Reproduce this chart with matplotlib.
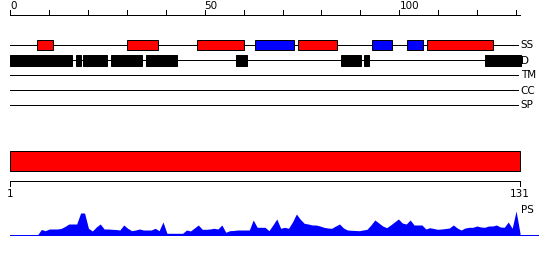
import matplotlib
matplotlib.use('Agg')
import matplotlib.pyplot as plt
from matplotlib.patches import Rectangle
import numpy as np

# ---------------- data ----------------
seq_len = 131
ruler_ticks = list(range(0, 131, 10))
ruler_labels = {0: '0', 50: '50', 100: '100'}
track_names = ['SS', 'D', 'TM', 'CC', 'SP']

helix = [(7, 11), (30, 38), (48, 60), (74, 84), (107, 124)]
strand = [(63, 73), (93, 98), (102, 106)]
disorder = [(0, 16), (17, 18.3), (18.8, 25), (26, 34), (35, 43),
            (58, 61), (85, 90.2), (91, 92.2), (122, 131.3)]

domain = [(1, 131)]
bottom_ticks = [1, 131]

ps_values = [0, 0, 0, 0, 0, 0, 0, 0, 5.5, 4.3,
             6, 6, 6, 6.5, 8.5, 11, 11, 11, 22, 22,
             6.7, 4, 8, 11, 6, 6, 5.7, 5.5, 5, 10,
             6.7, 4.3, 5, 6, 5, 5, 5, 6.7, 4.3, 13,
             1.7, 1.7, 1.7, 1.7, 1.7, 5, 4, 7, 10, 5.7,
             5.7, 6, 6.7, 6, 10, 2.7, 4.3, 4.5, 5, 5,
             5, 5, 15, 7.7, 7.7, 7.7, 4.3, 10, 16, 6.7,
             7.7, 6.7, 13, 21, 15.7, 11.7, 11, 10, 10, 9,
             7.7, 7, 6.7, 9, 11, 7, 5, 4.7, 4.5, 4.3,
             5, 5.7, 10, 15, 12, 9, 7.3, 10, 13, 16,
             12, 11, 15, 10, 10, 10, 6, 7.3, 6.5, 5.7,
             6, 6.5, 7, 10, 7, 5, 7, 7.7, 7.7, 9,
             8, 7.7, 9, 9, 10, 8, 7.7, 13, 6.7, 24,
             2]

# ---------------- layout ----------------
W, H = 550, 260
fig = plt.figure(figsize=(W / 100, H / 100), dpi=100)
lw = 0.72  # ~1px

k = 510 / seq_len
ax = fig.add_axes([0, 0, 1, 1])
ax.set_xlim(-10 / k, 540 / k)
ax.set_ylim(H, 0)
ax.axis('off')

# top ruler
ruler_y = 14.7
ax.plot([0, seq_len], [ruler_y, ruler_y], color='black', lw=lw)
for t in ruler_ticks:
    ax.plot([t, t], [ruler_y, 10], color='black', lw=lw)
    if t in ruler_labels:
        ax.text(t, 1.2, ruler_labels[t], ha='left', va='top', fontsize=7.5,
                family='DejaVu Sans')

track_y = {name: 45 + 15 * i for i, name in enumerate(track_names)}
for name, y in track_y.items():
    ax.plot([0, seq_len - 0.6], [y, y], color='black', lw=lw, zorder=1)
    ax.text(seq_len + 0.2, y + 0.5, name, ha='left', va='center', fontsize=7.5,
            family='DejaVu Sans')

ys = track_y['SS']
for s, e in helix:
    ax.add_patch(Rectangle((s, ys - 5), e - s, 10, fc='#ff0000', ec='black', lw=lw, zorder=2))
for s, e in strand:
    ax.add_patch(Rectangle((s, ys - 5), e - s, 10, fc='#0000ff', ec='black', lw=lw, zorder=2))
yd = track_y['D']
for s, e in disorder:
    ax.add_patch(Rectangle((s, yd - 5.5), e - s, 11, fc='black', ec='black', lw=lw, zorder=2))

# bottom part (1-based coordinates)
k2 = 510 / (seq_len - 1)
ax2 = fig.add_axes([0, 0, 1, 1])
ax2.set_xlim(1 - 10 / k2, 1 + 540 / k2)
ax2.set_ylim(H, 0)
ax2.axis('off')
ax2.patch.set_alpha(0)
for s, e in domain:
    ax2.add_patch(Rectangle((s, 150.5), e - s, 20, fc='#ff0000', ec='black', lw=lw))
ax2.plot([bottom_ticks[0], bottom_ticks[-1]], [180.5, 180.5], color='black', lw=lw)
for t in bottom_ticks:
    ax2.plot([t, t], [180.5, 185.5], color='black', lw=lw)
    ax2.text(t, 189, str(t), ha='center', va='top', fontsize=7.5, family='DejaVu Sans')
ax2.text(seq_len + 0.3, 210, 'PS', ha='left', va='center', fontsize=7.5,
         family='DejaVu Sans')

# PS profile
ax3 = fig.add_axes([0, 0, 1, 60 / H])
ax3.set_xlim(1 - 10 / k2, 1 + 540 / k2)
ax3.set_ylim(-25, 35)
ax3.axis('off')
ax3.patch.set_alpha(0)
res = np.arange(1, len(ps_values) + 1)
ax3.fill_between(res, ps_values, 0, color='#0000ff', lw=0)
ax3.plot([1, seq_len + 4.6], [0, 0], color='#0000ff', lw=lw)

fig.savefig('out.png', dpi=100)
